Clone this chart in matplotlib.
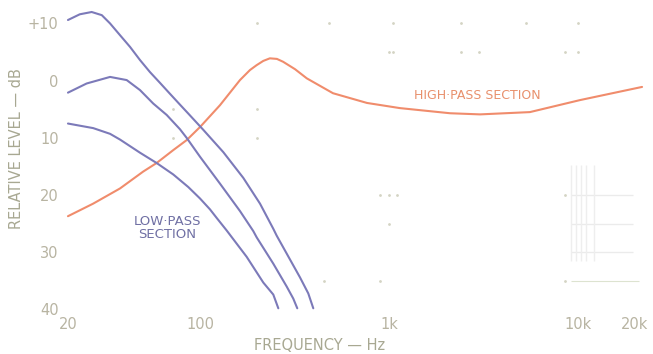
import matplotlib.pyplot as plt

# frequency (Hz) / level (dB)
lp1_f = [20, 23.1, 26.7, 30.2, 33.4, 37.7, 42.6, 48.1, 54.3, 61.4, 69.3, 78.3, 86.3, 104, 132.7,
         169.3, 207.5, 244, 254.3, 305.3, 337.8, 373.7, 397.2]
lp1_db = [10.6, 11.6, 12.0, 11.45, 10.0, 7.95, 5.9, 3.6, 1.5, -0.4, -2.3, -4.2, -5.7, -8.6, -12.5,
          -17.0, -21.5, -25.9, -27.1, -31.8, -34.4, -37.2, -39.8]

lp2_f = [20, 25.1, 33.4, 40.9, 48.1, 56.5, 66.6, 78.3, 84.9, 99.9, 127.4, 162.6, 191.2, 199.3,
         244, 287.3, 311.2, 326.8]
lp2_db = [-2.1, -0.5, 0.65, 0.1, -1.65, -4.0, -6.0, -8.5, -10.0, -13.3, -18.0, -22.8, -26.3, -27.4,
          -32.0, -36.0, -38.1, -39.8]

lp3_f = [20, 27.2, 33.4, 37.7, 48.1, 58.9, 72.1, 86.6, 99.9, 112.8, 122.4, 138.3, 176.4,
         216, 244, 259.4]
lp3_db = [-7.5, -8.3, -9.3, -10.3, -12.6, -14.4, -16.4, -18.6, -20.6, -22.5, -24.0, -26.2,
          -30.8, -35.3, -37.4, -39.8]

hp_f = [20, 27.2, 37.7, 50, 58.9, 72.1, 84.9, 100, 127.4, 162.6, 183.6, 199, 216, 234, 255, 275,
        318, 367, 505, 764, 1140, 2100, 3030, 5560, 10240, 21800]
hp_db = [-23.7, -21.5, -18.85, -15.9, -14.4, -12.15, -10.4, -8.1, -4.3, 0.1, 1.85, 2.7, 3.45, 3.9,
         3.8, 3.3, 2.0, 0.4, -2.2, -3.9, -4.8, -5.7, -5.9, -5.5, -3.4, -1.1]

xticks = [20, 100, 1000, 10000, 20000]
xlabels = ['20', '100', '1k', '10k', '20k']
yticks = [10, 0, -10, -20, -30, -40]
ylabels = ['+10', '0', '10', '20', '30', '40']

# faint leftover grid dots of the scan
dot_f = [200, 480, 1050, 2400, 5300, 10000, 1000, 1050, 2400, 3000, 8500, 10000,
         200, 200, 72, 72, 900, 1000, 1100, 1000, 8500, 450, 900, 8500]
dot_db = [10, 10, 10, 10, 10, 10, 5, 5, 5, 5, 5, 5,
          -5, -10, -5, -10, -20, -20, -20, -25, -20, -35, -35, -35]

BLUE = '#7c7ab9'
ORANGE = '#f08c6c'
TXT = '#b8b4a2'

fig = plt.figure(figsize=(6.53, 3.54), dpi=100)
ax = fig.add_axes([60 / 653, 1 - 310 / 354, 588 / 653, 302 / 354])

ax.scatter(dot_f, dot_db, s=1, color='#d4d4c4', zorder=1)

# faint grid patch in lower right of the scan
ax.hlines([-20, -25, -30], 9200, 19500, color='#ebebeb', lw=1.0, zorder=1)
ax.vlines([9200, 9700, 10300, 11000, 12200], -31.5, -14.8, color='#eeeeee', lw=1.0, zorder=1)
ax.hlines([-35], 9200, 21000, color='#dde3d0', lw=0.8, zorder=1)

for f, db in [(lp1_f, lp1_db), (lp2_f, lp2_db), (lp3_f, lp3_db)]:
    ax.plot(f, db, color=BLUE, lw=1.5, solid_capstyle='round', solid_joinstyle='round', zorder=3)
ax.plot(hp_f, hp_db, color=ORANGE, lw=1.5, solid_capstyle='round', solid_joinstyle='round', zorder=2)

ax.set_xscale('log')
ax.set_xlim(18.15, 23440)
ax.set_ylim(-40.1, 12.7)
ax.set_xticks(xticks)
ax.set_xticklabels(xlabels)
ax.minorticks_off()
ax.set_yticks(yticks)
ax.set_yticklabels(ylabels)
ax.tick_params(length=0, colors=TXT, labelsize=10.5)
ax.tick_params(axis='x', pad=5)
ax.tick_params(axis='y', pad=1)
for s in ax.spines.values():
    s.set_visible(False)

fig.text(320 / 653, 1 - 345 / 354, 'FREQUENCY — Hz', color='#a8a892', fontsize=10.5,
         ha='center', va='center')
fig.text(17 / 653, 1 - 149 / 354, 'RELATIVE LEVEL — dB', color='#a8a892', fontsize=10.5,
         ha='center', va='center', rotation=90)

ax.text(67, -25.7, 'LOW·PASS\nSECTION', color='#7070a4', fontsize=9.5, ha='center',
        va='center', linespacing=1.0)
ax.text(2920, -2.6, 'HIGH·PASS SECTION', color='#e8906c', fontsize=9, ha='center', va='center')

fig.savefig('out.png', dpi=100, facecolor='white')
